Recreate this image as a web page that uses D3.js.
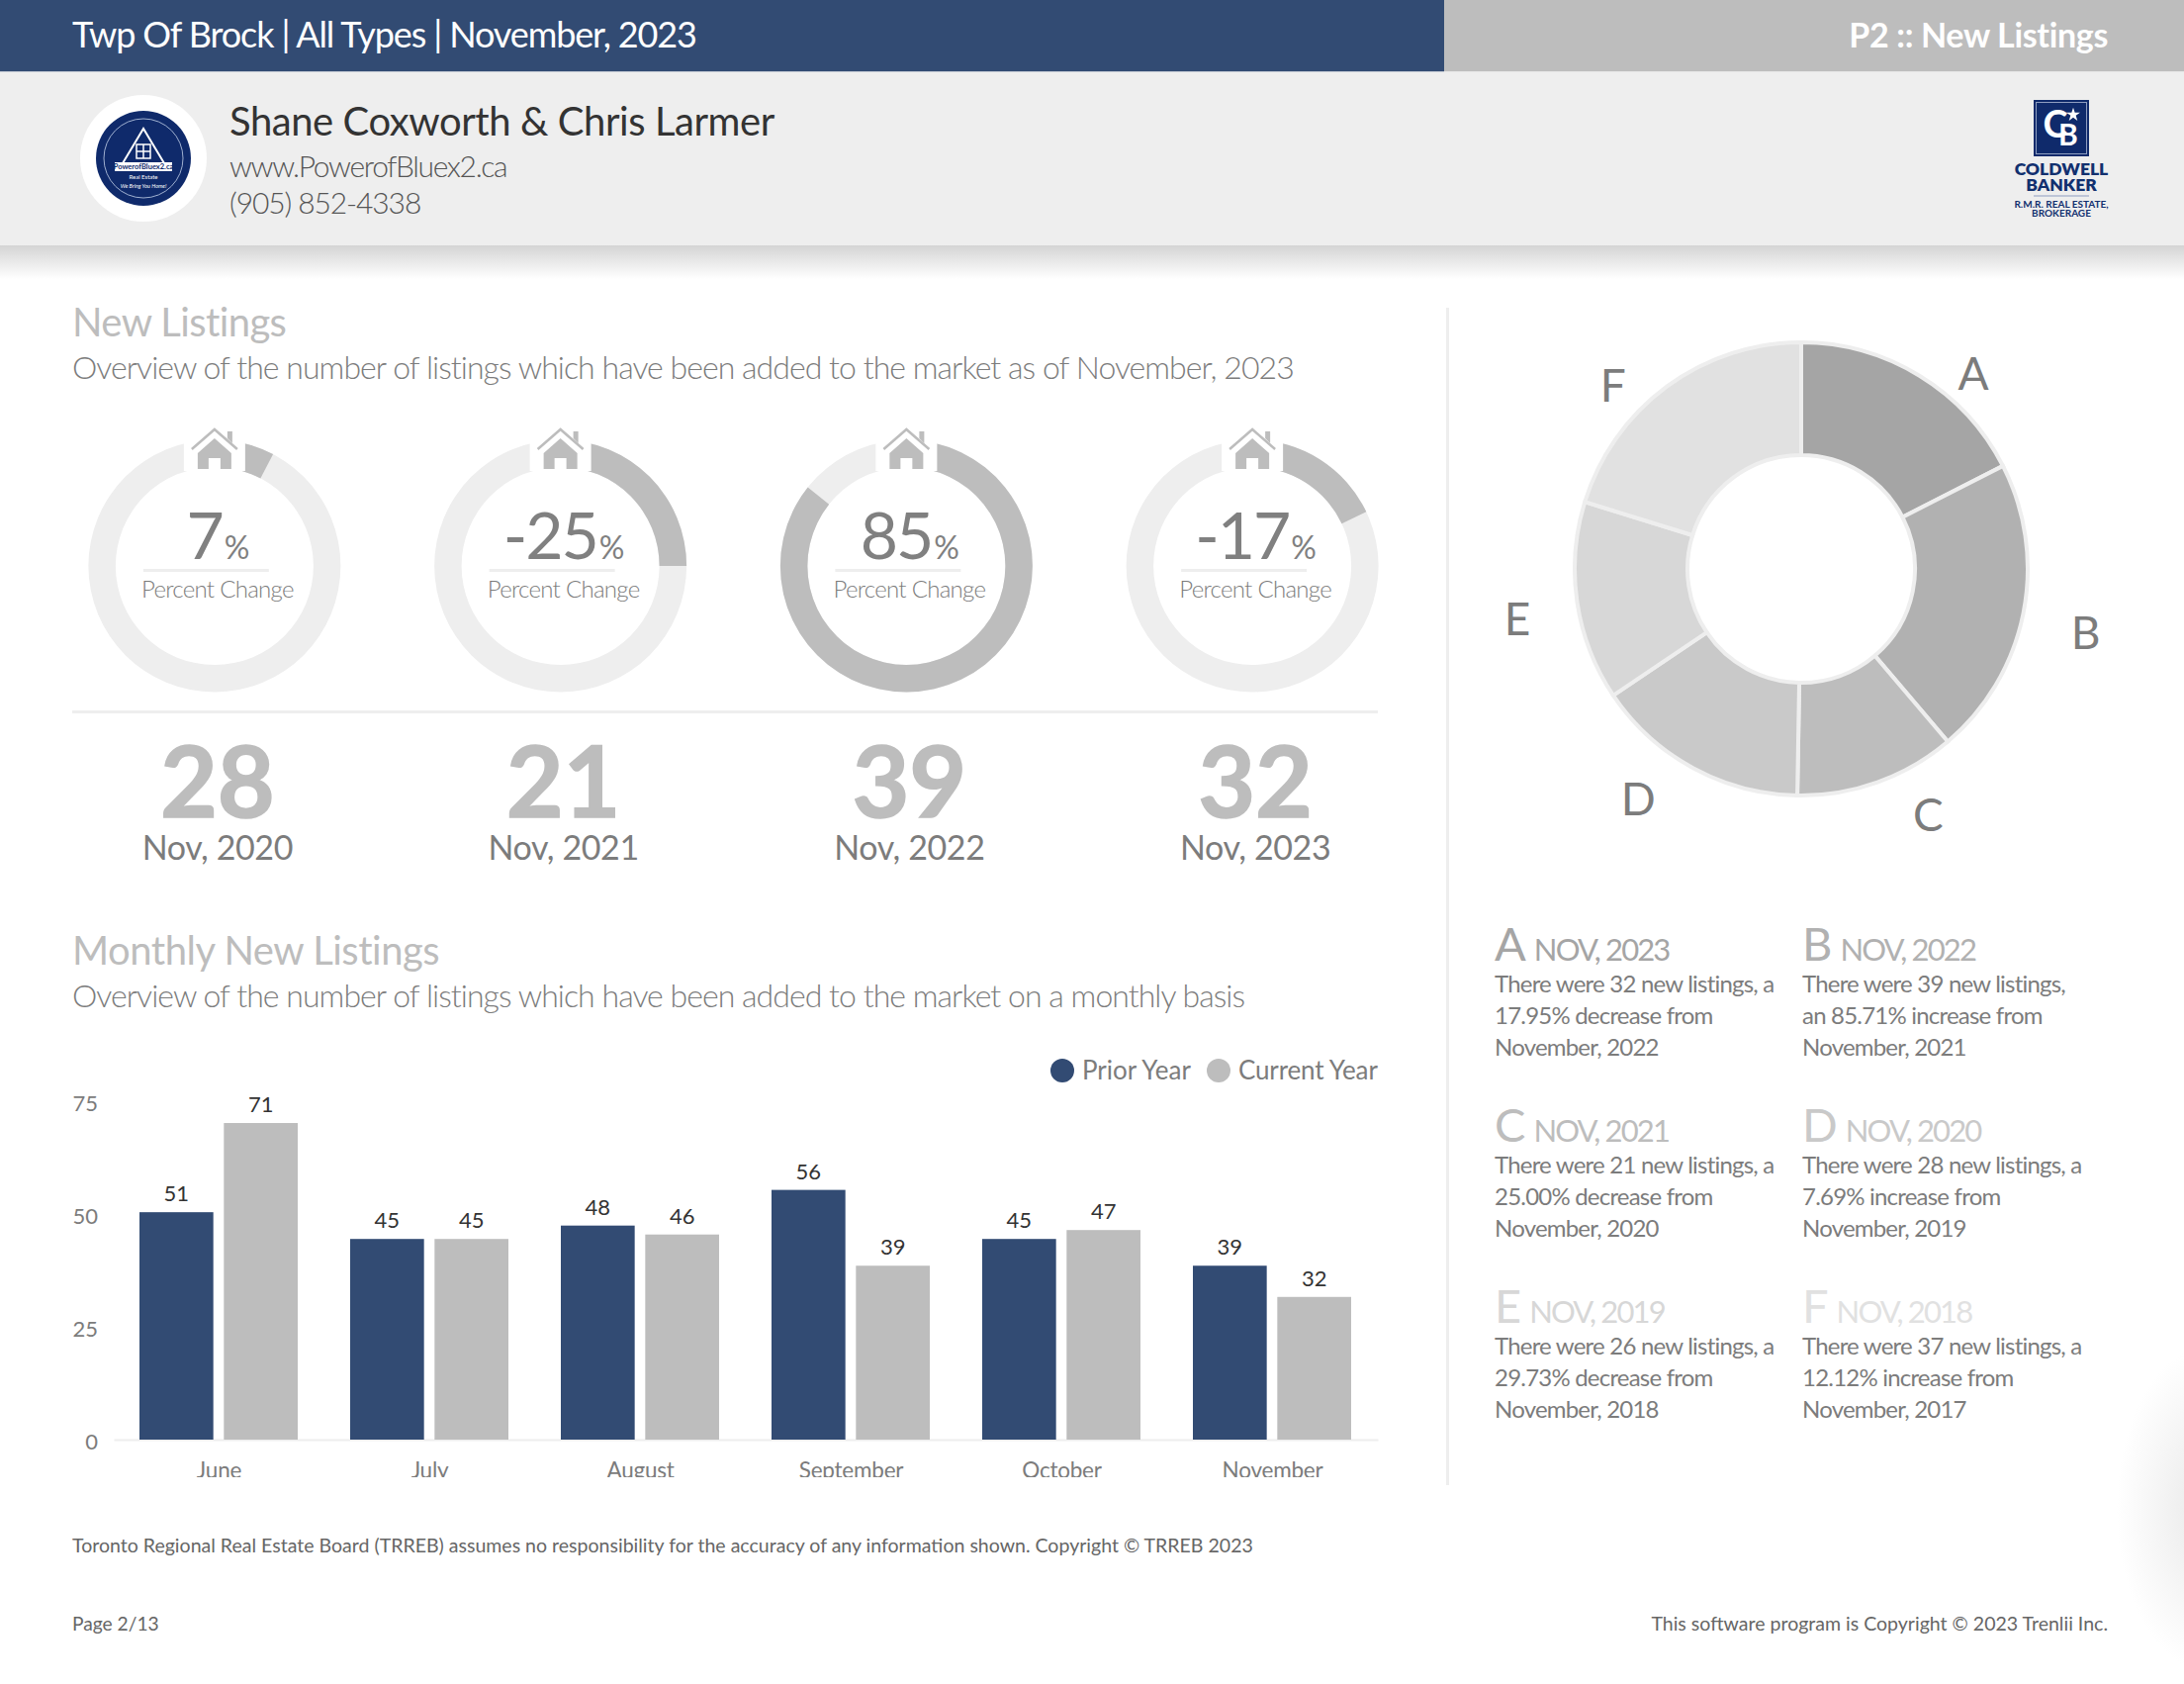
<!DOCTYPE html>
<html><head><meta charset="utf-8">
<script src="https://cdnjs.cloudflare.com/ajax/libs/d3/7.8.5/d3.min.js"></script>
<style>html,body{margin:0;padding:0;background:#fff}svg{display:block}text{font-family:Lato,sans-serif}</style>
</head><body><svg id="c" width="2208" height="1702"></svg>
<script>
const months=["June","July","August","September","October","November"];
const priorYear=[51,45,48,56,45,39];
const currentYear=[71,45,46,39,47,32];
const yTicks=[0,25,50,75];
const gaugePercent=[7.69,-25,85.71,-17.95];
const gaugeYears=["Nov, 2020","Nov, 2021","Nov, 2022","Nov, 2023"];
const gaugeCounts=[28,21,39,32];
const pieLetters=["A","B","C","D","E","F"];
const pieValues=[32,39,21,28,26,37];
const pieColors=["#a5a5a5","#b1b1b1","#bdbdbd","#c9c9c9","#d7d7d7","#e1e1e1"];
const noteYears=["NOV, 2023","NOV, 2022","NOV, 2021","NOV, 2020","NOV, 2019","NOV, 2018"];
const noteLines=[
["There were 32 new listings, a","17.95% decrease from","November, 2022"],
["There were 39 new listings,","an 85.71% increase from","November, 2021"],
["There were 21 new listings, a","25.00% decrease from","November, 2020"],
["There were 28 new listings, a","7.69% increase from","November, 2019"],
["There were 26 new listings, a","29.73% decrease from","November, 2018"],
["There were 37 new listings, a","12.12% increase from","November, 2017"]];
const NAVY="#324b73",GREY="#bdbdbd",TXT="#7c7c7c",RULE="#eeeeee";

const svg=d3.select("#c");
const defs=svg.append("defs");
const sh=defs.append("linearGradient").attr("id","sh").attr("x1",0).attr("x2",0).attr("y1",0).attr("y2",1);
sh.append("stop").attr("offset",0).attr("stop-color","#d4d4d4");
sh.append("stop").attr("offset",1).attr("stop-color","#ffffff");
const rg=defs.append("radialGradient").attr("id","rg");
rg.append("stop").attr("offset",0).attr("stop-color","#e8e8e8");
rg.append("stop").attr("offset",0.35).attr("stop-color","#f0f0f0");
rg.append("stop").attr("offset",1).attr("stop-color","#ffffff");
function T(x,y,s,size,fill,opt={}){
  return svg.append("text").attr("x",x).attr("y",y).text(s).attr("font-size",size).attr("fill",fill)
    .attr("font-weight",opt.w||400).attr("text-anchor",opt.a||"start").attr("letter-spacing",opt.ls?opt.ls+"em":null);
}
// corner glow
svg.append("ellipse").attr("cx",2235).attr("cy",1525).attr("rx",95).attr("ry",165).attr("fill","url(#rg)");
// header
svg.append("rect").attr("width",1460).attr("height",72.5).attr("fill",NAVY);
svg.append("rect").attr("x",1460).attr("width",748).attr("height",72.5).attr("fill",GREY);
svg.append("rect").attr("y",72.5).attr("width",2208).attr("height",175.5).attr("fill",RULE);
svg.append("rect").attr("y",248).attr("width",2208).attr("height",34).attr("fill","url(#sh)");
T(73,48,"Twp Of Brock | All Types | November, 2023",36,"#fff",{ls:-0.031});
T(2131,48,"P2 :: New Listings",34,"#fff",{a:"end",w:700,ls:-0.01});
T(232,137,"Shane Coxworth & Chris Larmer",40,"#333",{ls:-0.011});
T(232,179,"www.PowerofBluex2.ca",30,"#555",{w:300,ls:-0.045});
T(232,216,"(905) 852-4338",30,"#555",{w:300,ls:-0.037});
// agent logo
const lg=svg.append("g").attr("transform","translate(145,160)");
lg.append("circle").attr("r",64).attr("fill","#fff");
lg.append("circle").attr("r",48).attr("fill","#0f2a6b");
lg.append("circle").attr("r",40).attr("fill","none").attr("stroke","#9fb0d0").attr("stroke-width",1);
lg.append("path").attr("d","M-24,10 L0,-30 L24,10 Z").attr("fill","none").attr("stroke","#fff").attr("stroke-width",2);
lg.append("path").attr("d","M-7,-14H7V0H-7Z M0,-14V0 M-7,-7H7").attr("fill","none").attr("stroke","#fff").attr("stroke-width",1.5);
lg.append("rect").attr("x",-29).attr("y",4).attr("width",58).attr("height",9).attr("fill","#fff");
lg.append("text").attr("y",11).attr("text-anchor","middle").attr("font-size",7.5).attr("font-weight",700).attr("fill","#0f2a6b").text("PowerofBluex2.ca");
lg.append("text").attr("y",21).attr("text-anchor","middle").attr("font-size",6).attr("fill","#fff").text("Real Estate");
lg.append("text").attr("y",30).attr("text-anchor","middle").attr("font-size",5.5).attr("font-style","italic").attr("fill","#fff").text("We Bring You Home!");
// CB logo
const cb=svg.append("g");
cb.append("rect").attr("x",2056).attr("y",101).attr("width",56).attr("height",57).attr("fill","#0f2a6b");
cb.append("rect").attr("x",2058.5).attr("y",103.5).attr("width",51).attr("height",52).attr("fill","none").attr("stroke","#8e9dc0").attr("stroke-width",1);
cb.append("text").attr("x",2078).attr("y",139).attr("text-anchor","middle").attr("font-size",38).attr("font-weight",700).attr("fill","#fff").text("C");
cb.append("text").attr("x",2091).attr("y",147).attr("text-anchor","middle").attr("font-size",30).attr("font-weight",700).attr("fill","#fff").text("B");
cb.append("path").attr("d",d3.symbol(d3.symbolStar,60)()).attr("transform","translate(2096,116)").attr("fill","#fff");
[["COLDWELL",177,17.5,800],["BANKER",193,17.5,800],["R.M.R. REAL ESTATE,",210,10,700],["BROKERAGE",219,10,700]].forEach(d=>{
  T(2084,d[1],d[0],d[2],"#12306f",{a:"middle",w:d[3]});
});
svg.append("line").attr("x1",2056).attr("x2",2112).attr("y1",198).attr("y2",198).attr("stroke","#8e9dc0").attr("stroke-width",1);
// section titles
T(73,340,"New Listings",40,GREY,{ls:-0.015});
T(73,383,"Overview of the number of listings which have been added to the market as of November, 2023",32,TXT,{w:300,ls:-0.03});
T(73,975,"Monthly New Listings",40,GREY,{ls:-0.012});
T(73,1018,"Overview of the number of listings which have been added to the market on a monthly basis",32,TXT,{w:300,ls:-0.03});
svg.append("rect").attr("x",73).attr("y",718).attr("width",1320).attr("height",3).attr("fill",RULE);
svg.append("rect").attr("x",1462).attr("y",311).attr("width",3).attr("height",1190).attr("fill",RULE);
// gauges
const gx=d3.scaleBand().domain(gaugePercent.map((d,i)=>i)).range([42,1441]).padding(0);
const rOuter=127.5,rInner=100;
const arc=d3.arc().innerRadius(rInner).outerRadius(rOuter);
const pct=d3.scaleLinear().domain([0,100]).range([0,2*Math.PI]);
gaugePercent.forEach((v,i)=>{
  const cx=gx(i)+gx.bandwidth()/2, g=svg.append("g").attr("transform",`translate(${cx},572)`);
  g.append("path").attr("d",arc({startAngle:0,endAngle:2*Math.PI})).attr("fill",RULE);
  g.append("path").attr("d",arc({startAngle:0,endAngle:pct(Math.abs(v))})).attr("fill",GREY);
  g.append("rect").attr("x",-31).attr("y",-132).attr("width",62).attr("height",36).attr("fill","#fff");
  g.append("path").attr("fill",GREY)
   .attr("d","M-17,-114 L0,-129 L17,-114 V-98 H6 V-109 H-6 V-98 H-17 Z");
  g.append("path").attr("fill","none").attr("stroke",GREY).attr("stroke-width",2.5)
   .attr("d","M-23,-118 L0,-138 L23,-118");
  g.append("path").attr("fill",GREY).attr("d","M13,-136 H18 V-124 L13,-129 Z");
  const t=g.append("text").attr("x",3).attr("y",-7).attr("text-anchor","middle").attr("fill","#808080");
  t.append("tspan").attr("font-size",66).attr("font-weight",400).attr("letter-spacing","-0.03em").text(Math.trunc(v));
  t.append("tspan").attr("font-size",32).attr("font-weight",400).attr("dx",2).attr("letter-spacing","-0.03em").text("%");
  g.append("rect").attr("x",-72).attr("y",3).attr("width",127).attr("height",3).attr("fill",RULE);
  g.append("text").attr("x",3).attr("y",32).attr("text-anchor","middle").attr("font-size",24).attr("font-weight",300).attr("letter-spacing","-0.03em").attr("fill",TXT).text("Percent Change");
  svg.append("text").attr("x",cx+3).attr("y",826).attr("text-anchor","middle").attr("font-size",100).attr("font-weight",700).attr("fill",GREY).attr("stroke",GREY).attr("stroke-width",1.5).text(gaugeCounts[i]);
  svg.append("text").attr("x",cx+3).attr("y",869).attr("text-anchor","middle").attr("font-size",34).attr("letter-spacing","-0.012em").attr("fill",TXT).text(gaugeYears[i]);
});
// bar chart
const x0=d3.scaleBand().domain(months).range([115,1393]);
const x1=d3.scaleBand().domain(["p","c"]).range([26,186]).paddingInner(0.125);
const y=d3.scaleLinear().domain([0,75]).range([1455,1117]);
const yTickScale=d3.scaleLinear().domain([0,75]).range([1457,1115.5]);
defs.append("clipPath").attr("id","cl2").append("rect").attr("x",0).attr("y",-10).attr("width",1500).attr("height",48);
const xa=svg.append("g").attr("transform","translate(0,1455)").attr("clip-path","url(#cl2)").call(d3.axisBottom(x0).tickSize(0).tickPadding(23));
xa.select(".domain").attr("stroke",RULE).attr("stroke-width",2);
xa.selectAll("text").attr("font-size",22.5).attr("fill",TXT).attr("font-family","Lato").attr("letter-spacing","-0.01em");
const ya=svg.append("g").attr("transform","translate(99,0)").call(d3.axisLeft(yTickScale).tickValues(yTicks).tickSize(0).tickPadding(0));
ya.select(".domain").remove();
ya.selectAll("text").attr("font-size",22).attr("fill",TXT).attr("font-family","Lato");
[["p",priorYear,NAVY],["c",currentYear,GREY]].forEach(([k,vals,col])=>{
  const s=svg.append("g");
  s.selectAll("rect").data(vals).join("rect")
   .attr("x",(d,i)=>x0(months[i])+x1(k)).attr("width",x1.bandwidth())
   .attr("y",d=>y(d)).attr("height",d=>y(0)-y(d)).attr("fill",col);
  s.selectAll("text").data(vals).join("text")
   .attr("x",(d,i)=>x0(months[i])+x1(k)+x1.bandwidth()/2).attr("y",d=>y(d)-11)
   .attr("text-anchor","middle").attr("font-size",22).attr("fill","#333").text(d=>d);
});
// legend
svg.append("circle").attr("cx",1074).attr("cy",1082).attr("r",12).attr("fill",NAVY);
T(1094,1091,"Prior Year",26,TXT);
svg.append("circle").attr("cx",1232).attr("cy",1082).attr("r",12).attr("fill",GREY);
T(1252,1091,"Current Year",26,TXT,{ls:-0.006});
// donut
const pie=d3.pie().sort(null)(pieValues);
const dArc=d3.arc().innerRadius(115).outerRadius(229);
const dg=svg.append("g").attr("transform","translate(1821,575)");
dg.selectAll("path").data(pie).join("path").attr("d",dArc).attr("fill",(d,i)=>pieColors[i]).attr("stroke",RULE).attr("stroke-width",4);
const labelArc=d3.arc().innerRadius(280).outerRadius(280);
const nudge=[[28,42],[13,10],[34,-15],[-31,-13],[-10,10],[-24,40]];
dg.selectAll("text").data(pie).join("text")
 .attr("transform",(d,i)=>{const c=labelArc.centroid(d);return `translate(${c[0]+nudge[i][0]},${c[1]+nudge[i][1]+16})`;})
 .attr("text-anchor","middle").attr("font-size",46).attr("fill",TXT).text((d,i)=>pieLetters[i]);
// notes
const colX=[1511,1822], rowY=[971,1154,1337];
pieLetters.forEach((L,i)=>{
  const x=colX[i%2], yy=rowY[Math.floor(i/2)];
  const t=svg.append("text").attr("x",x).attr("y",yy).attr("fill",pieColors[i]);
  t.append("tspan").attr("font-size",47).text(L);
  t.append("tspan").attr("font-size",31).attr("dx",8).attr("letter-spacing","-0.06em").text(noteYears[i]);
  noteLines[i].forEach((ln,j)=>T(x,yy+32+j*31.8,ln,24,TXT,{ls:-0.033}));
});
// footer
T(73,1569,"Toronto Regional Real Estate Board (TRREB) assumes no responsibility for the accuracy of any information shown. Copyright © TRREB 2023",19.55,"#666");
T(73,1648,"Page 2/13",19.2,"#666");
T(2131,1648,"This software program is Copyright © 2023 Trenlii Inc.",19.55,"#666",{a:"end"});
</script></body></html>
